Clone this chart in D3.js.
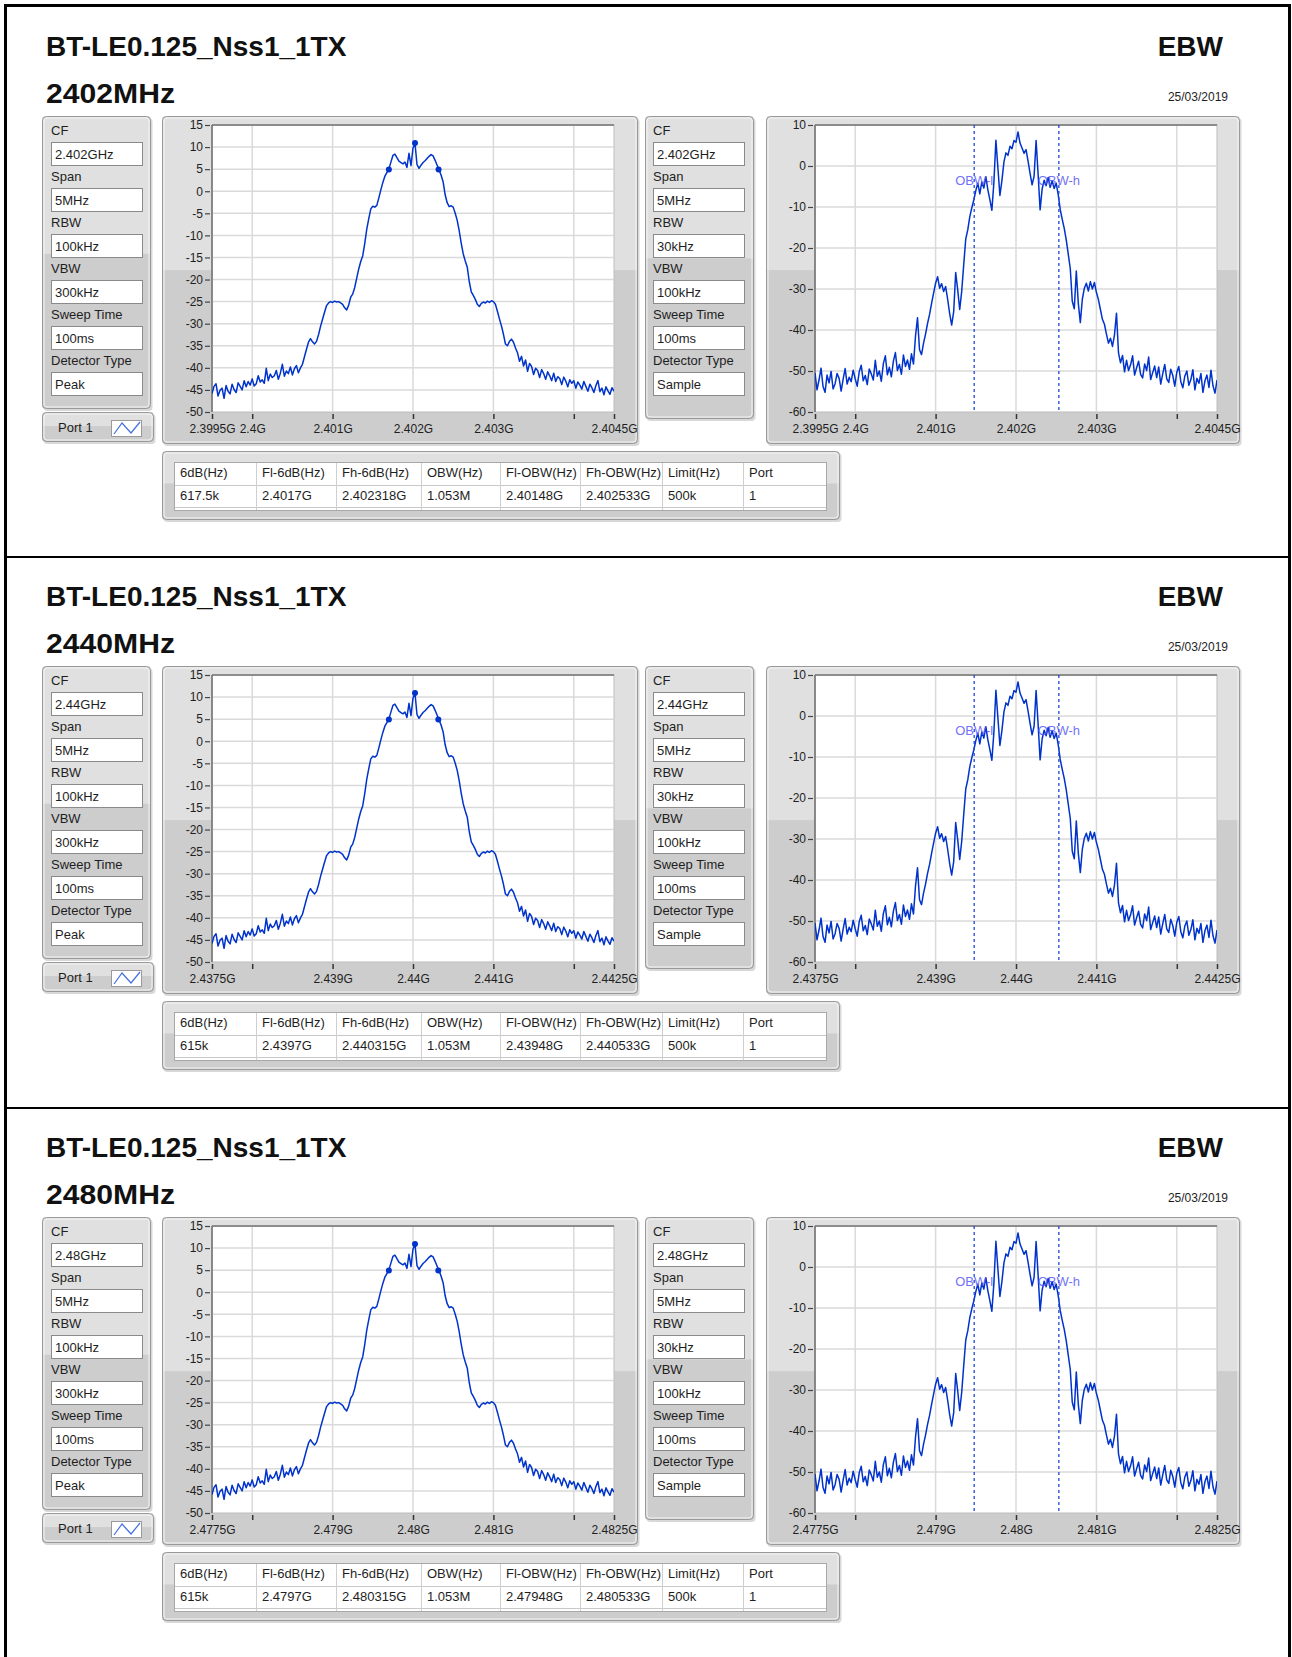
<!DOCTYPE html>
<html>
<head>
<meta charset="utf-8">
<script src="https://cdn.jsdelivr.net/npm/d3@7"></script>
<style>
  body { margin: 0; background: #fff; }
  svg text { font-family: "Liberation Sans", Arial, sans-serif; fill: #1e1e1e; }
  .title { font-size: 28px; font-weight: bold; fill: #111; }
  .date { font-size: 12px; }
  .lbl { font-size: 13px; }
</style>
</head>
<body>
<script>
'use strict';

// ---- data ----
const testTitle = "BT-LE0.125_Nss1_1TX";
const testName = "EBW";
const reportDate = "25/03/2019";
const channelLabels = ["2402MHz", "2440MHz", "2480MHz"];
const centerFreqs = [2.402, 2.44, 2.48];           // GHz
const cfTexts = ["2.402GHz", "2.44GHz", "2.48GHz"];

const paramNames = ["CF", "Span", "RBW", "VBW", "Sweep Time", "Detector Type"];
const peakSettings = ["5MHz", "100kHz", "300kHz", "100ms", "Peak"];
const sampleSettings = ["5MHz", "30kHz", "100kHz", "100ms", "Sample"];

// x ticks as offsets from CF in MHz, with the label text for each channel
const xTickOffsets = [-2.5, -2, -1, 0, 1, 2, 2.5];
const xTickLabels = [
  ["2.3995G", "2.4G", "2.401G", "2.402G", "2.403G", "2.404G", "2.4045G"],
  ["2.4375G", "2.438G", "2.439G", "2.44G", "2.441G", "2.442G", "2.4425G"],
  ["2.4775G", "2.478G", "2.479G", "2.48G", "2.481G", "2.482G", "2.4825G"]
];
const peakYTicks = [15, 10, 5, 0, -5, -10, -15, -20, -25, -30, -35, -40, -45, -50];
const sampleYTicks = [10, 0, -10, -20, -30, -40, -50, -60];

// result table
const tableHeaders = ["6dB(Hz)", "Fl-6dB(Hz)", "Fh-6dB(Hz)", "OBW(Hz)", "Fl-OBW(Hz)", "Fh-OBW(Hz)", "Limit(Hz)", "Port"];
const tableRows = [
  ["617.5k", "2.4017G", "2.402318G", "1.053M", "2.40148G", "2.402533G", "500k", "1"],
  ["615k", "2.4397G", "2.440315G", "1.053M", "2.43948G", "2.440533G", "500k", "1"],
  ["615k", "2.4797G", "2.480315G", "1.053M", "2.47948G", "2.480533G", "500k", "1"]
];
const fl6dB = [2.4017, 2.4397, 2.4797];
const fh6dB = [2.402318, 2.440315, 2.480315];
const flOBW = [2.40148, 2.43948, 2.47948];
const fhOBW = [2.402533, 2.440533, 2.480533];
const peakLevel = [10.9, 10.9, 10.9];  // dBm, peak marker
const peakOffset = 0.025;               // MHz from CF

// peak-detector trace (dBm), -2.5 .. +2.5 MHz around CF
const peakTrace = [
  -45.8, -44.2, -43.6, -46.4, -45.1, -44.6, -46.9, -44.0, -45.3, -45.9,
  -43.7, -44.9, -45.6, -43.4, -44.2, -45.0, -42.9, -44.3, -43.1, -43.9,
  -42.5, -44.1, -43.6, -41.8, -43.2, -42.7, -43.5, -40.1, -42.9, -41.4,
  -42.2, -41.8, -40.6, -42.6, -41.2, -39.2, -41.9, -40.7, -41.3, -39.8,
  -41.6, -40.2, -39.5, -41.1, -40.0,
  -39.2, -37.5, -35.8, -34.2, -33.4, -34.1, -34.6, -34.0, -32.5, -30.6,
  -29.0, -27.4, -25.9, -25.3, -25.0, -25.2, -24.9, -25.1, -25.0, -25.3,
  -25.6, -26.4, -26.9, -25.8, -24.0, -23.3, -21.8, -19.7, -17.6, -15.9,
  -14.6, -11.8, -8.6, -6.2, -4.0, -3.4, -3.6, -3.2, -1.5, 0.3,
  2.0, 3.4, 4.2, 5.0, 6.6, 8.1, 8.4, 7.6, 6.8, 6.5,
  6.2, 6.6, 5.4, 8.6, 5.8, 9.8, 10.8, 6.0, 5.2, 5.9,
  6.5, 6.9, 7.4, 7.9, 8.3, 8.0, 7.0, 5.9, 4.8, 3.6,
  2.1, -0.8, -2.6, -3.5, -3.3, -3.6, -5.0, -6.6, -9.0, -11.8,
  -14.2, -15.8, -17.2, -20.5, -22.8, -23.6, -24.5, -25.6, -26.1, -25.4,
  -25.1, -25.3, -24.9, -25.2, -24.8, -25.0, -25.6, -27.2, -28.9, -30.5,
  -32.4, -34.6, -35.0, -34.0, -33.5, -34.2, -35.5, -36.6, -38.5,
  -37.4, -39.6, -38.2, -40.8, -39.0, -39.7, -41.5, -40.1, -40.6, -42.2,
  -40.4, -41.3, -42.6, -40.9, -41.8, -42.9, -41.2, -43.1, -42.0, -42.4,
  -43.8, -42.1, -43.0, -44.3, -42.7, -43.5, -42.9, -44.6, -43.2, -43.9,
  -44.8, -43.1, -44.2, -45.3, -43.7, -44.5, -45.6, -44.0, -42.9, -45.4,
  -44.6, -46.1, -44.3, -45.2, -46.0, -44.5, -45.3
];

// sample-detector trace (dBm), -2.5 .. +2.5 MHz around CF
const sampleTrace = [
  -50.5, -54.6, -52.2, -49.3, -53.8, -55.2, -51.0, -52.9, -50.1, -54.4,
  -53.1, -50.6, -51.8, -54.9, -52.0, -49.4, -53.2, -51.5, -52.6, -49.8,
  -51.9, -53.7, -50.2, -48.6, -52.4, -51.1, -53.3, -49.5, -50.7, -52.2,
  -47.4, -51.3, -50.0, -52.5, -48.2, -46.3, -50.9, -49.1, -51.4, -47.6,
  -45.5, -49.9, -48.4, -50.8, -46.1, -48.9, -47.3, -49.6, -45.8, -48.3,
  -41.5, -37.0, -44.8, -46.0, -43.2, -41.0, -38.4, -36.2, -33.5, -31.0,
  -28.6, -27.0, -29.8, -28.7, -30.6, -29.4, -32.5, -36.0, -38.8, -35.5,
  -26.0, -30.2, -35.0, -30.5, -24.0, -17.8, -15.6, -12.4, -10.2, -8.3,
  -6.0, -4.2, -6.8, -3.9, -5.4, -2.6, -5.8, -8.2, -10.8, -4.0,
  6.3, -0.5, -7.2, -3.5, 1.0, 3.2, 2.6, 4.8, 4.2, 6.2,
  5.8, 8.3, 5.6, 4.4, 3.1, 4.0, 1.2, -1.8, -4.6, -2.5,
  6.2, -2.0, -10.7, -5.6, -3.5, -4.8, -2.8, -5.2, -3.6, -5.5,
  -4.2, -7.0, -10.6, -13.0, -15.2, -18.0, -21.5, -25.0, -33.0, -34.8,
  -25.6, -33.5, -38.2, -32.5, -29.8, -28.6, -30.5, -28.2, -30.0, -28.4,
  -30.8, -32.6, -35.0, -37.4, -38.6, -41.0, -43.2, -42.0, -44.0, -41.2,
  -35.9,
  -45.6, -48.0, -46.2, -50.2, -47.4, -49.9, -48.5, -46.3, -51.0, -49.2,
  -47.6, -50.8, -51.7, -48.3, -49.9, -46.6, -52.1, -50.4, -48.8, -51.6,
  -49.0, -53.2, -50.7, -48.4, -51.9, -52.8, -49.6, -51.1, -53.7, -50.3,
  -48.9, -52.6, -54.1, -51.2, -50.0, -53.5, -52.1, -49.7, -54.6, -51.8,
  -53.0, -50.6, -55.2, -52.4, -51.0, -54.0, -49.8, -53.6, -55.4, -52.2
];

// ---- drawing ----
const W = 1292, H = 1657;
const traceColor = "#0033cc";
const svg = d3.select("body").append("svg").attr("width", W).attr("height", H);
const defs = svg.append("defs");
let clipCount = 0;

// grey LabVIEW style frame
function drawPanel(g, x, y, w, h) {
  const id = "pc" + (clipCount++);
  defs.append("clipPath").attr("id", id).append("rect")
    .attr("x", x).attr("y", y).attr("width", w).attr("height", h).attr("rx", 4);
  g.append("rect")
    .attr("x", x + 1.5).attr("y", y + 2).attr("width", w).attr("height", h).attr("rx", 4)
    .attr("fill", "#b8b8b8").attr("opacity", 0.55);
  const inner = g.append("g").attr("clip-path", `url(#${id})`);
  inner.append("rect").attr("x", x).attr("y", y).attr("width", w).attr("height", h).attr("fill", "#e0e0e0");
  inner.append("rect").attr("x", x).attr("y", y + h * 0.47).attr("width", w).attr("height", h * 0.53).attr("fill", "#cdcdcd");
  g.append("rect")
    .attr("x", x + 2).attr("y", y + 2).attr("width", w - 4).attr("height", h - 4).attr("rx", 3)
    .attr("fill", "none").attr("stroke", "#f3f3f3").attr("stroke-width", 1);
  g.append("rect")
    .attr("x", x + 0.5).attr("y", y + 0.5).attr("width", w - 1).attr("height", h - 1).attr("rx", 4)
    .attr("fill", "none").attr("stroke", "#999").attr("stroke-width", 1);
}

function drawParams(g, px, py, pw, ph, bx, values) {
  drawPanel(g, px, py, pw, ph);
  paramNames.forEach((name, i) => {
    const top = 142 + 46 * i;
    g.append("text").attr("class", "lbl").attr("x", bx).attr("y", top - 7.5).text(name);
    g.append("rect").attr("x", bx + 0.5).attr("y", top + 0.5).attr("width", 91).attr("height", 23)
      .attr("fill", "#fff").attr("stroke", "#8a8a8a");
    g.append("text").attr("class", "lbl").attr("x", bx + 4).attr("y", top + 16.5).text(values[i]);
  });
}

function drawPort(g) {
  drawPanel(g, 42, 412, 112, 30);
  g.append("text").attr("class", "lbl").attr("x", 58).attr("y", 431.5).text("Port 1");
  g.append("rect").attr("x", 111.5).attr("y", 420.5).attr("width", 30).attr("height", 16)
    .attr("fill", "#fff").attr("stroke", "#9a9a9a");
  g.append("path").attr("d", "M114,434 L122,423 L131,433 L140,422")
    .attr("fill", "none").attr("stroke", "#3f6fe0").attr("stroke-width", 1.2);
}

function drawChart(g, o) {
  const [bx, by, bw, bh] = o.panel;
  drawPanel(g, bx, by, bw, bh);
  const [x0, y0, x1, y1] = o.plot;
  const x = d3.scaleLinear().domain([-2.5, 2.5]).range([x0, x1]);
  const y = d3.scaleLinear().domain(o.yDomain).range([y1, y0]);

  g.append("rect").attr("x", x0).attr("y", y0).attr("width", x1 - x0).attr("height", y1 - y0)
    .attr("fill", "#fff").attr("stroke", "#bdbdbd");

  // grid
  const grid = g.append("g").attr("stroke", "#dadada").attr("stroke-width", 1.5);
  grid.selectAll(".h").data(o.yTicks.filter(v => v > o.yDomain[0] && v < o.yDomain[1])).join("line")
    .attr("x1", x0).attr("x2", x1).attr("y1", d => y(d)).attr("y2", d => y(d));
  grid.selectAll(".v").data(xTickOffsets.slice(1, -1)).join("line")
    .attr("x1", d => x(d)).attr("x2", d => x(d)).attr("y1", y0).attr("y2", y1);

  g.append("line").attr("x1", x0).attr("x2", x1).attr("y1", y0).attr("y2", y0)
    .attr("stroke", "#8c8c8c").attr("stroke-width", 2);
  g.append("line").attr("x1", x0).attr("x2", x0).attr("y1", y0).attr("y2", y1)
    .attr("stroke", "#6e6e6e").attr("stroke-width", 1.5);

  // y axis
  const ya = g.append("g").attr("transform", `translate(${x0 - 2},0)`)
    .call(d3.axisLeft(y).tickValues(o.yTicks).tickSize(5).tickPadding(2).tickFormat(d => d));
  ya.select(".domain").remove();
  ya.attr("font-family", null).attr("font-size", 12);
  ya.selectAll(".tick line").attr("stroke", "#444").attr("stroke-width", 1.2);
  ya.selectAll(".tick text").attr("fill", "#222");

  // x axis, labels dropped where they would collide
  const xa = g.append("g").attr("transform", `translate(0,${y1 + 2})`)
    .call(d3.axisBottom(x).tickValues(xTickOffsets).tickSize(5).tickPadding(5)
      .tickFormat((d, i) => o.labels[i]));
  xa.select(".domain").remove();
  xa.attr("font-family", null).attr("font-size", 12);
  xa.selectAll(".tick line").attr("stroke", "#333").attr("stroke-width", 1.5);
  xa.selectAll(".tick text").attr("fill", "#222");
  const texts = xa.selectAll(".tick text").nodes();
  const span = n => [x(n.__data__) - n.getComputedTextLength() / 2, x(n.__data__) + n.getComputedTextLength() / 2];
  const kept = [span(texts[0]), span(texts[texts.length - 1])];
  texts.slice(1, -1).forEach(n => {
    const [a, b] = span(n);
    if (kept.some(([c, e]) => a < e + 2 && b > c - 2)) d3.select(n).remove();
    else kept.push([a, b]);
  });

  // trace
  const id = "pl" + (clipCount++);
  defs.append("clipPath").attr("id", id).append("rect")
    .attr("x", x0).attr("y", y0).attr("width", x1 - x0).attr("height", y1 - y0);
  const n = o.trace.length;
  const line = d3.line().x((d, i) => x(-2.5 + 5 * i / (n - 1))).y(d => y(d));
  const tg = g.append("g").attr("clip-path", `url(#${id})`);
  tg.append("path").datum(o.trace).attr("d", line)
    .attr("fill", "none").attr("stroke", traceColor).attr("stroke-width", 1.5)
    .attr("stroke-linejoin", "round");

  if (o.markers) {
    tg.selectAll("circle").data(o.markers).join("circle")
      .attr("cx", d => x(d[0])).attr("cy", d => y(d[1])).attr("r", 3).attr("fill", traceColor);
  }
  if (o.obw) {
    const names = ["OBW-l", "OBW-h"];
    o.obw.forEach((f, i) => {
      tg.append("line").attr("x1", x(f)).attr("x2", x(f)).attr("y1", y0).attr("y2", y1)
        .attr("stroke", "#1f47d8").attr("stroke-width", 1.3).attr("stroke-dasharray", "3,3");
      g.append("text").attr("x", x(f)).attr("y", y0 + 60).attr("text-anchor", "middle")
        .attr("font-size", 13).style("fill", "#5a5af5").attr("opacity", 0.85).text(names[i]);
    });
  }
}

function drawTable(g, s) {
  drawPanel(g, 162, 451, 678, 69);
  const edges = [174, 256, 336, 421, 500, 580, 662, 743, 826];
  g.append("rect").attr("x", 174.5).attr("y", 462.5).attr("width", 652).attr("height", 48)
    .attr("fill", "#fff").attr("stroke", "#a8a8a8");
  [485.5, 507.5].forEach(yy => g.append("line").attr("x1", 175).attr("x2", 826).attr("y1", yy).attr("y2", yy)
    .attr("stroke", "#c8c8c8"));
  g.selectAll(".sep" + s).data(edges.slice(1, -1)).join("line")
    .attr("x1", d => d + 0.5).attr("x2", d => d + 0.5).attr("y1", 463).attr("y2", 510)
    .attr("stroke", "#cfcfcf");
  g.selectAll(".hd" + s).data(tableHeaders).join("text").attr("class", "lbl")
    .attr("x", (d, i) => edges[i] + 6).attr("y", 477).text(d => d);
  g.selectAll(".vl" + s).data(tableRows[s]).join("text").attr("class", "lbl")
    .attr("x", (d, i) => edges[i] + 6).attr("y", 500).text(d => d);
}

// outer frame and section dividers
svg.append("path").attr("d", `M5.5,${H} V5.5 H1289.5 V${H}`)
  .attr("fill", "none").attr("stroke", "#000").attr("stroke-width", 3);
[557, 1108].forEach(yy => svg.append("line").attr("x1", 5).attr("x2", 1290).attr("y1", yy).attr("y2", yy)
  .attr("stroke", "#000").attr("stroke-width", 2));

const sectionTop = [0, 550, 1101];
sectionTop.forEach((oy, s) => {
  const g = svg.append("g").attr("transform", `translate(0,${oy})`);
  g.append("text").attr("class", "title").attr("x", 46).attr("y", 56).text(testTitle);
  g.append("text").attr("class", "title").attr("x", 1223).attr("y", 56).attr("text-anchor", "end").text(testName);
  g.append("text").attr("class", "title").attr("x", 46).attr("y", 103)
    .attr("textLength", 129).attr("lengthAdjust", "spacingAndGlyphs").text(channelLabels[s]);
  g.append("text").attr("class", "date").attr("x", 1228).attr("y", 101).attr("text-anchor", "end").text(reportDate);

  const cf = centerFreqs[s];
  drawParams(g, 42, 116, 109, 293, 51, [cfTexts[s]].concat(peakSettings));
  drawPort(g);
  drawChart(g, {
    panel: [162, 116, 476, 328], plot: [212, 125, 614, 412],
    yDomain: [-50, 15], yTicks: peakYTicks, trace: peakTrace, labels: xTickLabels[s],
    markers: [
      [(fl6dB[s] - cf) * 1000, peakLevel[s] - 6],
      [peakOffset, peakLevel[s]],
      [(fh6dB[s] - cf) * 1000, peakLevel[s] - 6]
    ]
  });
  drawParams(g, 645, 116, 109, 303, 653, [cfTexts[s]].concat(sampleSettings));
  drawChart(g, {
    panel: [766, 116, 474, 328], plot: [815, 125, 1217, 412],
    yDomain: [-60, 10], yTicks: sampleYTicks, trace: sampleTrace, labels: xTickLabels[s],
    obw: [(flOBW[s] - cf) * 1000, (fhOBW[s] - cf) * 1000]
  });
  drawTable(g, s);
});
</script>
</body>
</html>
